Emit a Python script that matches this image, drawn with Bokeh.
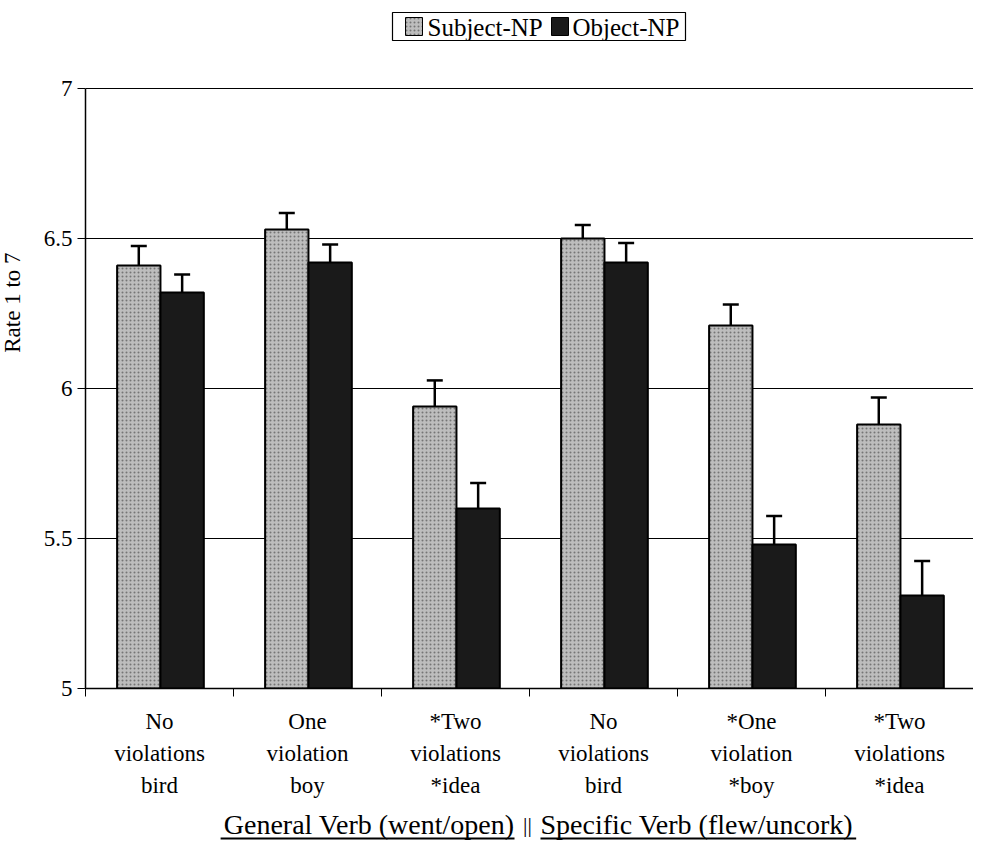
import math
from bokeh.plotting import figure
from bokeh.models import (ColumnDataSource, Range1d, FixedTicker, NumeralTickFormatter,
                          Whisker, TeeHead)
from bokeh.transform import dodge
from bokeh.layouts import column, row
from bokeh.core.properties import value
from bokeh.embed import file_html
from bokeh.resources import INLINE

# ---- data ----
categories = ["No\nviolations\nbird", "One\nviolation\nboy", "*Two\nviolations\n*idea",
              "No\nviolations\nbird", "*One\nviolation\n*boy", "*Two\nviolations\n*idea"]
series_names = ["Subject-NP", "Object-NP"]
subject_np = [6.41, 6.53, 5.94, 6.50, 6.21, 5.88]
subject_err = [0.065, 0.055, 0.087, 0.045, 0.07, 0.09]
object_np = [6.32, 6.42, 5.60, 6.42, 5.48, 5.31]
object_err = [0.06, 0.06, 0.085, 0.065, 0.095, 0.115]
y_ticks = [5, 5.5, 6, 6.5, 7]
y_label = "Rate 1 to 7"
x_title_left = "General Verb (went/open)"
x_title_sep = "||"
x_title_right = "Specific Verb (flew/uncork)"

FONT = "Liberation Serif"
SUBJ_COLOR = "#bdbdbd"
OBJ_COLOR = "#1a1a1a"

xpos = [i + 0.5 for i in range(len(categories))]
src = ColumnDataSource(dict(
    x=xpos,
    subj=subject_np, subj_lo=[v - e for v, e in zip(subject_np, subject_err)],
    subj_hi=[v + e for v, e in zip(subject_np, subject_err)],
    obj=object_np, obj_lo=[v - e for v, e in zip(object_np, object_err)],
    obj_hi=[v + e for v, e in zip(object_np, object_err)],
))

W = 973
TOP_H = 74
MAIN_TOP = 13
MAIN_H = 601 + MAIN_TOP + 118
BOT_H = 35
LEFT_W = 40


def strip(width, height, yflip=True):
    f = figure(width=width, height=height, output_backend="svg", toolbar_location=None,
               title=None, x_range=Range1d(0, width),
               y_range=Range1d(height, 0) if yflip else Range1d(0, height),
               min_border=0, x_axis_location=None, y_axis_location=None)
    f.outline_line_color = None
    f.xgrid.visible = False
    f.ygrid.visible = False
    f.border_fill_color = "white"
    return f


# ---- legend strip ----
p0 = strip(W, TOP_H)
p0.quad(left=[392], right=[685], top=[12], bottom=[40], fill_color="white",
        line_color="black", line_width=1.2)
p0.quad(left=[405, 551], right=[422, 568], top=[17, 17], bottom=[35, 35],
        fill_color=[SUBJ_COLOR, OBJ_COLOR], line_color="black", line_width=1,
        hatch_pattern=["dot", " "], hatch_color="#444444", hatch_scale=4, hatch_alpha=0.6)
p0.text(x=[427, 572], y=[27, 27], text=series_names, text_font=value(FONT),
        text_font_size=value("25px"), text_align="left", text_baseline="middle",
        text_color="black")

# ---- main chart ----
p = figure(width=W - LEFT_W, height=MAIN_H, output_backend="svg", toolbar_location=None,
           title=None, x_range=Range1d(0, len(categories)), y_range=Range1d(5, 7.0034),
           min_border_left=39, min_border_right=0, min_border_top=MAIN_TOP,
           min_border_bottom=118)
p.outline_line_color = None
p.background_fill_color = "white"
p.border_fill_color = "white"

OFF_S, OFF_O, BW = -0.14, 0.153, 0.293
r_s = p.vbar(x=dodge("x", OFF_S, range=p.x_range), top="subj", bottom=5, width=BW, source=src,
             fill_color=SUBJ_COLOR, line_color="black", line_width=2,
             hatch_pattern="dot", hatch_color="#444444", hatch_scale=4, hatch_alpha=0.6)
r_o = p.vbar(x=dodge("x", OFF_O, range=p.x_range), top="obj", bottom=5, width=BW, source=src,
             fill_color=OBJ_COLOR, line_color="black", line_width=2)

for off, lo, hi in [(OFF_S, "subj_lo", "subj_hi"), (OFF_O, "obj_lo", "obj_hi")]:
    w = Whisker(base=dodge("x", off, range=p.x_range), lower=lo, upper=hi, source=src,
                line_color="black", line_width=2.5,
                upper_head=TeeHead(size=16, line_width=2.5, line_color="black"),
                lower_head=TeeHead(size=16, line_width=2.5, line_color="black"))
    p.add_layout(w)

p.yaxis.ticker = FixedTicker(ticks=y_ticks)
p.yaxis.formatter = NumeralTickFormatter(format="0.[0]")
p.yaxis.bounds = (5, 7)
p.yaxis.axis_line_color = "black"
p.yaxis.axis_line_width = 1.5
p.yaxis.major_tick_out = 8
p.yaxis.major_tick_in = 0
p.yaxis.major_tick_line_color = "black"
p.yaxis.minor_tick_line_color = None
p.yaxis.major_label_text_font = FONT
p.yaxis.major_label_text_font_size = "23px"
p.yaxis.major_label_text_color = "black"
p.yaxis.major_label_standoff = 5

p.ygrid.ticker = FixedTicker(ticks=y_ticks)
p.ygrid.grid_line_color = "black"
p.ygrid.grid_line_width = 1
p.xgrid.grid_line_color = None

p.xaxis.ticker = FixedTicker(ticks=xpos, minor_ticks=list(range(len(categories) + 1)))
p.xaxis.major_label_overrides = {x: c for x, c in zip(xpos, categories)}
p.xaxis.axis_line_color = "black"
p.xaxis.axis_line_width = 1.5
p.xaxis.major_tick_out = 0
p.xaxis.major_tick_in = 0
p.xaxis.major_tick_line_color = None
p.xaxis.minor_tick_out = 8
p.xaxis.minor_tick_in = 0
p.xaxis.minor_tick_line_color = "black"
p.xaxis.major_label_text_font = FONT
p.xaxis.major_label_text_font_size = "23px"
p.xaxis.major_label_text_color = "black"
p.xaxis.major_label_text_line_height = 1.28
p.xaxis.major_label_standoff = 12

# ---- y-axis title strip ----
pl = strip(LEFT_W, MAIN_H)
pl.text(x=[12], y=[248 + 14], text=[y_label], angle=math.pi / 2, text_font=value(FONT),
        text_font_size=value("23px"), text_align="center", text_baseline="middle",
        text_color="black")

# ---- bottom title strip (underlined) ----
p2 = strip(W, BOT_H)
fs = 28
left_end, sep_x, right_start = 514, 527, 540
mid_y, ul_y = 18, 32
p2.text(x=[left_end], y=[mid_y], text=[x_title_left], text_font=value(FONT),
        text_font_size=value(f"{fs}px"), text_align="right", text_baseline="middle",
        text_color="black")
p2.text(x=[sep_x], y=[mid_y], text=[x_title_sep], text_font=value(FONT),
        text_font_size=value("22px"), text_align="center", text_baseline="middle",
        text_color="black")
p2.text(x=[right_start], y=[mid_y], text=[x_title_right], text_font=value(FONT),
        text_font_size=value(f"{fs}px"), text_align="left", text_baseline="middle",
        text_color="black")
lw = 10.496 * fs
rw = 11.274 * fs
p2.segment(x0=[left_end - lw, right_start], y0=[ul_y, ul_y], x1=[left_end, right_start + rw],
           y1=[ul_y, ul_y], line_color="black", line_width=1.8)

layout = column(p0, row(pl, p, spacing=0), p2, spacing=0)
open("out.html", "w").write(file_html(layout, INLINE))
